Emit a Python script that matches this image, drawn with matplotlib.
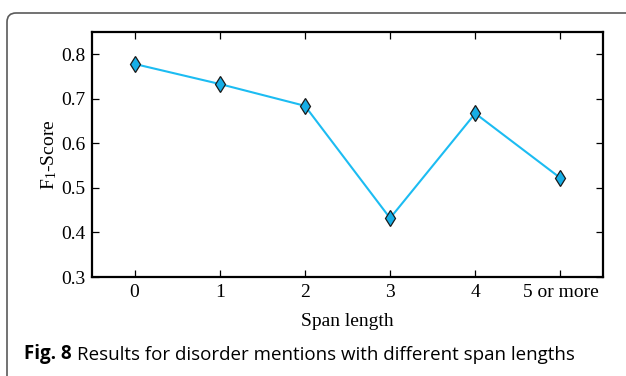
import matplotlib

matplotlib.use("Agg")
import matplotlib.pyplot as plt
from matplotlib.patches import FancyBboxPatch
from matplotlib.transforms import IdentityTransform

# data
span_labels = ["0", "1", "2", "3", "4", "5 or more"]
f1_scores = [0.778, 0.733, 0.684, 0.432, 0.667, 0.522]

plt.rcParams["font.family"] = ["Liberation Serif", "DejaVu Serif"]
plt.rcParams["mathtext.fontset"] = "custom"
plt.rcParams["mathtext.rm"] = "Liberation Serif"
plt.rcParams["mathtext.it"] = "Liberation Serif:italic"

DPI = 100
fig = plt.figure(figsize=(6.26, 3.76), dpi=DPI)
ax = fig.add_axes([92 / 626, 1 - 277 / 376, (603 - 92) / 626, (277 - 32.3) / 376])

x = list(range(len(span_labels)))
ax.plot(x, f1_scores, color="#1cbcf2", lw=1.5, zorder=2)
ax.plot(x, f1_scores, ls="none", marker="d", markersize=8.2,
        markerfacecolor="#16aee6", markeredgecolor="#1a1a1a",
        markeredgewidth=0.9, zorder=3)

ax.set_xlim(-0.5, 5.5)
ax.set_ylim(0.3, 0.849)
ax.set_xticks(x)
ax.set_xticklabels(span_labels)
ax.set_yticks([0.3, 0.4, 0.5, 0.6, 0.7, 0.8])
ax.set_yticklabels(["0.3", "0.4", "0.5", "0.6", "0.7", "0.8"])
ax.tick_params(direction="in", top=True, right=True, length=5, width=0.9,
               labelsize=14, pad=5)
for s in ax.spines.values():
    s.set_linewidth(1.6)

ax.set_xlabel("Span length", fontsize=14, labelpad=9)
ax.set_ylabel(r"F$_1$-Score", fontsize=14, labelpad=1)

# rounded frame around the figure, running off right and bottom edges
frame = FancyBboxPatch((7, -40), 720, 376 - 13 + 40,
                       boxstyle="round,pad=0,rounding_size=9",
                       transform=IdentityTransform(), fill=False,
                       edgecolor="#5a5a5a", lw=1.2)
fig.add_artist(frame)

# caption: bold figure number followed by regular text
cap_y = 1 - 359 / 376
t1 = fig.text(24 / 626, cap_y, "Fig. 8", family="Open Sans", weight="bold",
              fontsize=13.5, va="baseline", ha="left")
ax.annotate("Results for disorder mentions with different span lengths",
            xy=(1, 0), xycoords=t1, xytext=(4, 0), textcoords="offset points",
            family="Open Sans", fontsize=13.5, va="bottom", ha="left",
            annotation_clip=False)

fig.savefig("out.png", dpi=DPI)
